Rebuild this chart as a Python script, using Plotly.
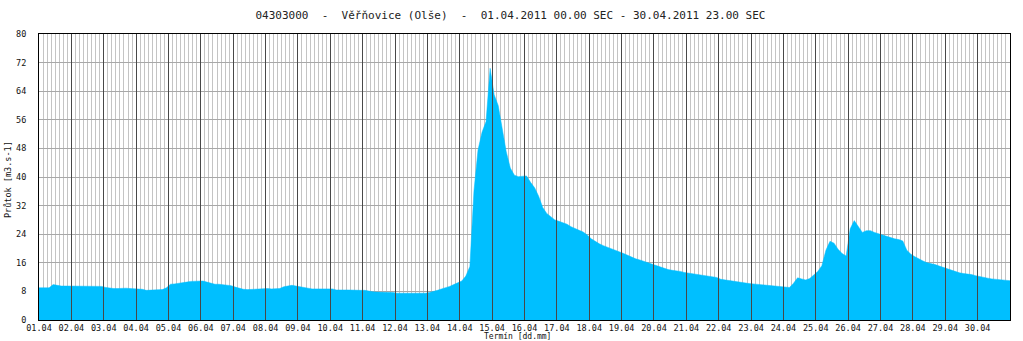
import plotly.graph_objects as go

# Day labels (x axis ticks), one per day of April 2011
day_labels = ["%02d.04" % d for d in range(1, 31)]

# Discharge [m3/s], 3-hour steps (8 values per day, mid-step)
flow_3h = [
    9.0, 9.0, 9.0, 9.9, 9.6, 9.5, 9.5, 9.5,        # 01.04
    9.5, 9.4, 9.5, 9.4, 9.4, 9.5, 9.5, 9.4,        # 02.04
    9.1, 8.9, 8.8, 8.8, 8.9, 8.9, 8.8, 8.8,        # 03.04
    8.8, 8.6, 8.3, 8.3, 8.4, 8.4, 8.5, 9.0,        # 04.04
    10.0, 10.1, 10.2, 10.4, 10.6, 10.8, 10.9, 10.9,  # 05.04
    10.9, 10.6, 10.2, 10.0, 10.0, 9.9, 9.8, 9.6,   # 06.04
    9.2, 8.8, 8.6, 8.5, 8.6, 8.7, 8.7, 8.8,        # 07.04
    8.8, 8.7, 8.8, 8.8, 9.3, 9.6, 9.7, 9.5,        # 08.04
    9.3, 9.0, 8.8, 8.7, 8.7, 8.7, 8.6, 8.6,        # 09.04
    8.7, 8.4, 8.3, 8.4, 8.4, 8.3, 8.3, 8.3,        # 10.04
    8.3, 8.0, 7.9, 7.8, 7.8, 7.8, 7.8, 7.7,        # 11.04
    7.5, 7.5, 7.4, 7.4, 7.4, 7.4, 7.5, 7.5,        # 12.04
    7.7, 7.9, 8.3, 8.7, 9.0, 9.4, 9.9, 10.3,       # 13.04
    10.9, 12.3, 15.0, 36.0, 47.5, 52.5, 55.5, 70.4,  # 14.04
    63.0, 60.0, 54.0, 47.0, 42.5, 40.5, 40.1, 40.2,  # 15.04
    40.3, 38.5, 37.0, 34.6, 31.5, 29.8, 28.9, 28.0,  # 16.04
    27.6, 27.2, 26.8, 26.1, 25.5, 25.1, 24.6, 23.8,  # 17.04
    22.7, 21.9, 21.3, 20.8, 20.4, 20.0, 19.6, 19.1,  # 18.04
    18.6, 18.1, 17.5, 17.1, 16.8, 16.4, 16.1, 15.7,  # 19.04
    15.1, 14.7, 14.3, 14.1, 13.9, 13.8, 13.6, 13.3,  # 20.04
    13.1, 12.9, 12.7, 12.5, 12.3, 12.2, 12.1, 11.9,  # 21.04
    11.4, 11.2, 11.0, 10.8, 10.6, 10.5, 10.4, 10.2,  # 22.04
    10.1, 10.0, 9.9, 9.8, 9.8, 9.7, 9.6, 9.5,      # 23.04
    9.2, 9.1, 10.3, 11.8, 11.5, 11.2, 11.6, 12.5,  # 24.04
    13.6, 15.2, 19.5, 22.0, 21.5, 19.8, 18.6, 17.9,  # 25.04
    25.5, 27.8, 26.1, 24.5, 25.0, 25.0, 24.5, 24.1,  # 26.04
    23.8, 23.3, 23.0, 22.7, 22.5, 22.1, 19.5, 18.4,  # 27.04
    17.7, 17.0, 16.5, 16.0, 15.8, 15.5, 15.1, 14.7,  # 28.04
    14.2, 13.8, 13.4, 13.2, 13.0, 12.9, 12.7, 12.4,  # 29.04
    12.1, 11.9, 11.7, 11.5, 11.4, 11.2, 11.1, 11.0,  # 30.04
]

STEP_H = 3
N_HOURS = 24 * len(day_labels)
# sample instants at the middle of each 3-hour step; the series is held
# flat out to both edges of the period
x_hours = [0] + [i * STEP_H + STEP_H / 2 for i in range(len(flow_3h))] + [N_HOURS]
y_flow = [flow_3h[0]] + flow_3h + [flow_3h[-1]]
day_ticks = [24 * i for i in range(len(day_labels))]

title_text = ("04303000  -  Věřňovice (Olše)  -  01.04.2011 00.00 SEC - "
              "30.04.2011 23.00 SEC").replace(" ", "\u00a0")

MONO = "DejaVu Sans Mono"
W, H = 1023, 341
ML, MR, MT, MB = 39, 13, 34, 21
plot_h = H - MT - MB

fig = go.Figure()
fig.add_trace(go.Scatter(
    x=x_hours, y=y_flow, mode="lines", line=dict(width=0.5, color="#00BFFF"),
    fill="tozeroy", fillcolor="#00BFFF", hoverinfo="x+y",
))

fig.update_layout(
    width=W, height=H,
    margin=dict(l=ML, r=MR, t=MT, b=MB, autoexpand=False),
    paper_bgcolor="white", plot_bgcolor="white",
    showlegend=False,
    title=dict(text=title_text, x=0.499, xanchor="center", xref="container",
               y=1 - 15 / H, yanchor="middle", yref="container",
               font=dict(family=MONO, size=11, color="#222")),
    xaxis=dict(
        range=[0, N_HOURS],
        tickmode="array", tickvals=day_ticks, ticktext=day_labels,
        ticks="inside", ticklen=plot_h, tickwidth=1, tickcolor="#484848",
        showgrid=True, gridcolor="#c4c4c4", gridwidth=1,
        minor=dict(dtick=STEP_H, tick0=0, showgrid=True,
                   gridcolor="#c4c4c4", gridwidth=1, ticks=""),
        showline=True, linecolor="black", linewidth=1, mirror=True,
        layer="above traces", zeroline=False,
        tickfont=dict(family=MONO, size=8.5, color="#111"),
        automargin=False, fixedrange=True,
    ),
    yaxis=dict(
        range=[0, 80], tickmode="linear", tick0=0, dtick=8,
        showgrid=True, gridcolor="#a8a8a8", gridwidth=1,
        showline=True, linecolor="black", linewidth=1, mirror=True,
        zeroline=False, ticks="", ticklabelstandoff=10,
        tickfont=dict(family=MONO, size=8.5, color="#111"),
        automargin=False, fixedrange=True,
    ),
    annotations=[
        dict(text="Termín [dd.mm]", xref="paper", yref="paper",
             x=(517 - ML) / (W - ML - MR), y=-(336 - (H - MB)) / plot_h,
             xanchor="center", yanchor="middle", showarrow=False,
             font=dict(family=MONO, size=8, color="#111")),
        dict(text="Průtok [m3.s-1]", xref="paper", yref="paper",
             x=(8 - ML) / (W - ML - MR), y=((H - MB) - 180) / plot_h,
             xanchor="center", yanchor="middle", showarrow=False, textangle=-90,
             font=dict(family=MONO, size=8.5, color="#111")),
    ],
)

fig.write_html("out.html")
